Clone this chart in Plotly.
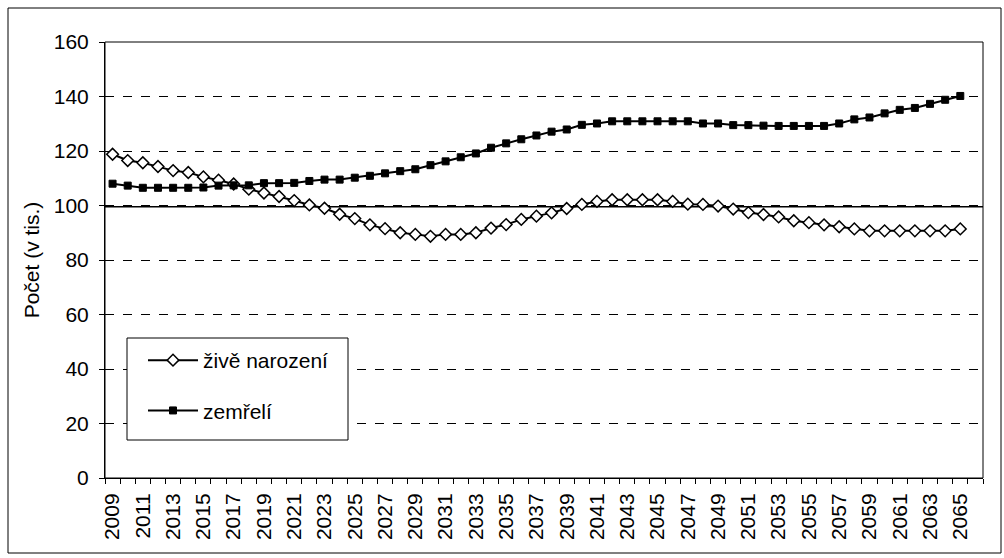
import plotly.graph_objects as go

years = list(range(2009, 2066))
zive_narozeni = [118.8, 116.5, 115.7, 114.3, 112.8, 112.1, 110.5, 109.3, 107.9, 106.0,
                 104.6, 103.3, 101.8, 100.2, 99.0, 96.8, 95.2, 92.9, 91.5, 90.0,
                 89.4, 88.7, 89.4, 89.4, 90.0, 91.7, 93.0, 94.9, 96.1, 97.3,
                 98.9, 100.4, 101.5, 102.1, 102.1, 102.1, 102.1, 101.5, 100.5, 100.4,
                 99.8, 98.7, 97.4, 96.7, 95.8, 94.4, 93.7, 92.9, 92.2, 91.4,
                 90.7, 90.7, 90.7, 90.7, 90.7, 90.7, 91.4]
zemreli = [108.0, 107.3, 106.5, 106.5, 106.5, 106.5, 106.6, 107.3, 107.4, 107.4,
           108.2, 108.2, 108.3, 109.0, 109.5, 109.5, 110.2, 110.9, 111.8, 112.6,
           113.3, 114.8, 116.2, 117.7, 119.1, 121.2, 122.8, 124.3, 125.7, 127.1,
           127.9, 129.6, 130.1, 130.9, 130.9, 130.9, 130.9, 130.9, 130.9, 130.1,
           130.1, 129.5, 129.5, 129.3, 129.2, 129.2, 129.2, 129.2, 130.1, 131.6,
           132.3, 133.8, 135.1, 135.8, 137.3, 138.8, 140.2]
tick_years = list(range(2009, 2066, 2))
y_ticks = [0, 20, 40, 60, 80, 100, 120, 140, 160]
ref_level = 99.5

FONT = "Liberation Sans, Arial, sans-serif"
FS = 21

# plot-area geometry in pixels (for paper-coordinate conversions)
PL, PR, PT, PB = 105, 983, 42, 478
PW, PH = PR - PL, PB - PT


def px_x(x):
    return (x - PL) / PW


def px_y(y):
    return (PB - y) / PH


fig = go.Figure()
fig.add_trace(go.Scatter(
    x=years, y=zive_narozeni, name="živě narození", mode="lines+markers",
    line=dict(color="black", width=2),
    marker=dict(symbol="diamond", size=9, color="white",
                line=dict(color="black", width=1.5)),
    legendgroup="a"))
fig.add_trace(go.Scatter(
    x=years, y=zemreli, name="zemřelí", mode="lines+markers",
    line=dict(color="black", width=2),
    marker=dict(symbol="square", size=7, color="black",
                line=dict(color="black", width=1)),
    legendgroup="b"))

# reference line
fig.add_shape(type="line", xref="paper", yref="y", x0=0, x1=1,
              y0=ref_level, y1=ref_level, line=dict(color="black", width=1.5),
              layer="below")
# plot area border
fig.add_shape(type="rect", xref="paper", yref="paper", x0=0, x1=1, y0=0, y1=1,
              line=dict(color="black", width=1), layer="below")
# outer chart border
fig.add_shape(type="rect", xref="paper", yref="paper",
              x0=px_x(8), x1=px_x(1001), y0=px_y(553), y1=px_y(8),
              line=dict(color="black", width=1))
# legend box
fig.add_shape(type="rect", xref="paper", yref="paper",
              x0=px_x(127), x1=px_x(348), y0=px_y(440), y1=px_y(338),
              line=dict(color="black", width=1), fillcolor="white", layer="above")

fig.update_layout(
    width=1004, height=558,
    margin=dict(l=PL, r=1004 - PR, t=PT, b=558 - PB),
    paper_bgcolor="white", plot_bgcolor="white",
    font=dict(family=FONT, size=FS, color="black"),
    showlegend=True,
    legend=dict(x=px_x(143), y=px_y(340), xanchor="left", yanchor="top",
                bgcolor="rgba(0,0,0,0)", borderwidth=0,
                font=dict(size=FS), tracegroupgap=20, traceorder="grouped",
                itemwidth=50),
    xaxis=dict(range=[2008.5, 2066.5], tickmode="array", tickvals=tick_years,
               ticktext=[str(t) for t in tick_years], tickangle=-90,
               ticks="", showgrid=False, zeroline=False,
               showline=True, linecolor="black", linewidth=1,
               minor=dict(tick0=2008.5, dtick=1, ticks="outside", ticklen=5,
                          tickcolor="black", showgrid=False),
               ticklabelstandoff=6,
               tickfont=dict(size=FS)),
    yaxis=dict(range=[0, 160], tickvals=y_ticks, ticks="outside", ticklen=5,
               tickcolor="black", showline=True, linecolor="black", linewidth=1,
               showgrid=True, gridcolor="black", griddash="dash", gridwidth=1,
               zeroline=False, ticklabelstandoff=6,
               title=dict(text="Počet (v tis.)", standoff=8, font=dict(size=FS)),
               tickfont=dict(size=FS)),
)

fig.write_html("out.html", config={"displayModeBar": False},
               post_script="document.body.style.margin='0';")
